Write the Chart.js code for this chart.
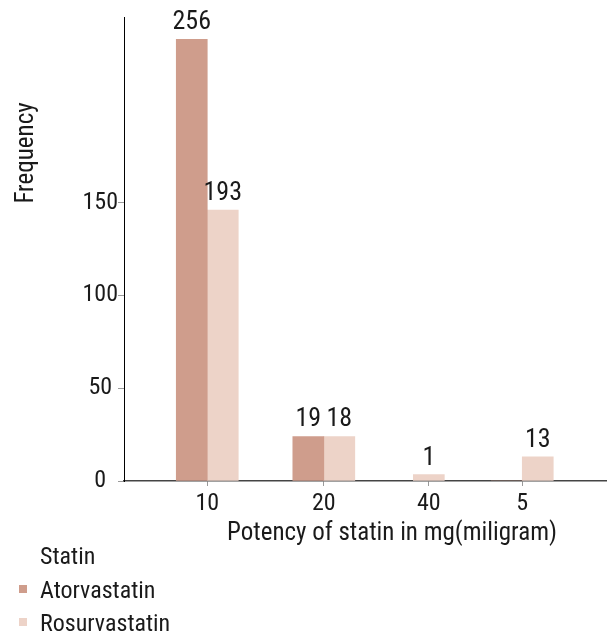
<!DOCTYPE html>
<html>
<head>
<meta charset="utf-8">
<script src="https://cdn.jsdelivr.net/npm/chart.js@4.4.1/dist/chart.umd.min.js"></script>
<style>
    html, body { margin: 0; padding: 0; background: #ffffff; }
    #wrap { width: 607px; height: 637px; position: relative; }
</style>
</head>
<body>
<div id="wrap"><canvas id="statinChart"></canvas></div>
<script>
// ─── DATA ────────────────────────────────────────────────────

const categories = ['10', '20', '40', '5'];
// where each dose group sits on the x axis (in category units)
const categoryPos = [0, 1.11, 2.11, 3];
const yTicks = [0, 50, 100, 150];

// bar heights as drawn against the y axis
const atorvastatin = [238, 24, null, 0];
const rosurvastatin = [146, 24, 3.5, 13];

// numbers printed above the bars
const atorvastatinLabels = [256, 19, null, null];
const rosurvastatinLabels = [193, 18, 1, 13];

const FONT = "'Liberation Sans Narrow', 'Roboto Condensed', 'Liberation Sans', sans-serif";
const TEXT = '#1a1a1a';


// ─── PLUGINS ─────────────────────────────────────────────────

/**
 * Prints the count above each bar, using the bar element positions.
 */
const barLabels = {
    id: 'barLabels',
    afterDatasetsDraw(chart) {
        const ctx = chart.ctx;
        ctx.save();
        ctx.font = `26px ${FONT}`;
        ctx.fillStyle = TEXT;
        ctx.textAlign = 'center';
        ctx.textBaseline = 'alphabetic';
        chart.data.datasets.forEach((ds, di) => {
            const meta = chart.getDatasetMeta(di);
            meta.data.forEach((bar, i) => {
                const label = ds.valueLabels[i];
                if (label == null) return;
                ctx.fillText(String(label), bar.x, bar.y - 10);
            });
        });
        ctx.restore();
    }
};

/**
 * Axis titles and the stacked legend under the chart.
 */
const sideText = {
    id: 'sideText',
    afterDraw(chart) {
        const ctx = chart.ctx;
        ctx.save();
        ctx.fillStyle = TEXT;
        ctx.font = `25px ${FONT}`;
        ctx.textBaseline = 'alphabetic';

        // y title, rotated
        ctx.save();
        ctx.translate(33, 153);
        ctx.rotate(-Math.PI / 2);
        ctx.textAlign = 'center';
        ctx.fillText('Frequency', 0, 0);
        ctx.restore();

        // x title
        ctx.textAlign = 'center';
        ctx.fillText('Potency of statin in mg(miligram)', 392, 540);

        // legend
        ctx.font = `24px ${FONT}`;
        ctx.textAlign = 'left';
        ctx.fillText('Statin', 40, 564);
        chart.data.datasets.forEach((ds, i) => {
            const rowY = 585 + i * 33;
            ctx.fillStyle = ds.backgroundColor;
            ctx.fillRect(19, rowY, 8, 8);
            ctx.fillStyle = TEXT;
            ctx.fillText(ds.label, 40, rowY + 13);
        });
        ctx.restore();
    }
};


// ─── CHART ───────────────────────────────────────────────────

new Chart(document.getElementById('statinChart'), {
    type: 'bar',
    data: {
        datasets: [
            {
                label: 'Atorvastatin',
                data: atorvastatin.map((v, i) => ({ x: categoryPos[i], y: v })),
                valueLabels: atorvastatinLabels,
                backgroundColor: '#cf9d8c',
                borderWidth: 0
            },
            {
                label: 'Rosurvastatin',
                data: rosurvastatin.map((v, i) => ({ x: categoryPos[i], y: v })),
                valueLabels: rosurvastatinLabels,
                backgroundColor: '#edd3c8',
                borderWidth: 0
            }
        ]
    },
    options: {
        responsive: true,
        maintainAspectRatio: false,
        animation: false,
        skipNull: true,
        barThickness: 31,
        layout: { padding: { top: 17, right: 0, bottom: 0, left: 0 } },
        plugins: {
            legend: { display: false },
            tooltip: { enabled: false }
        },
        scales: {
            x: {
                type: 'linear',
                min: -0.793,
                max: 3.807,
                offset: false,
                afterBuildTicks: s => { s.ticks = categoryPos.map(v => ({ value: v })); },
                afterFit: s => { s.height = 156; },
                border: { display: true, color: '#444444', width: 1.5 },
                grid: { display: true, drawOnChartArea: false, drawTicks: true, tickLength: 5, color: '#9a9a9a', offset: false },
                ticks: {
                    autoSkip: false,
                    maxRotation: 0,
                    padding: 4,
                    color: TEXT,
                    font: { family: FONT, size: 24 },
                    callback: (v, i) => categories[i]
                }
            },
            y: {
                min: 0,
                max: 250,
                afterBuildTicks: s => { s.ticks = yTicks.map(v => ({ value: v })); },
                afterFit: s => { s.width = 124; },
                border: { display: true, color: '#000000', width: 1 },
                grid: { display: true, drawOnChartArea: false, drawTicks: true, tickLength: 6, color: '#9a9a9a' },
                ticks: {
                    padding: 0,
                    crossAlign: 'center',
                    color: TEXT,
                    font: { family: FONT, size: 24 }
                }
            }
        }
    },
    plugins: [barLabels, sideText]
});
</script>
</body>
</html>
